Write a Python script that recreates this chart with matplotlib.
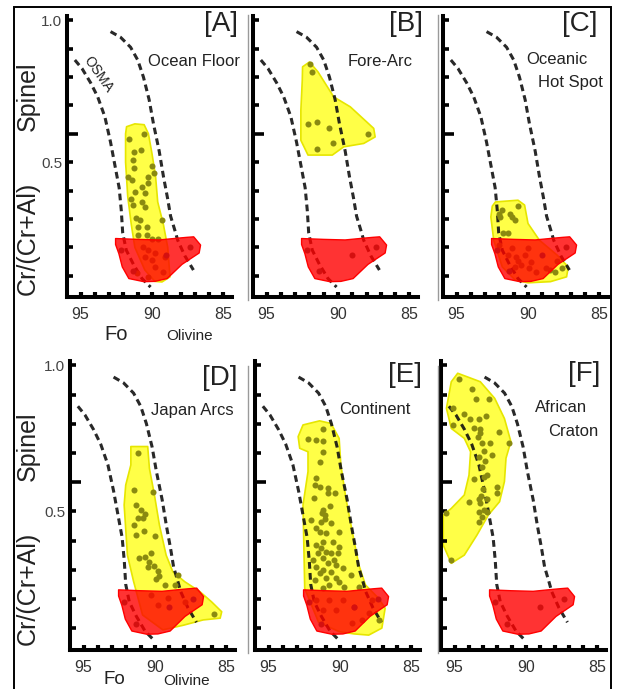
import numpy as np
import matplotlib
matplotlib.use("Agg")
import matplotlib.pyplot as plt
from matplotlib.patches import Polygon, Rectangle
from matplotlib.lines import Line2D

plt.rcParams['font.family'] = ['Liberation Sans', 'DejaVu Sans']

# ---- data (olivine Fo vs spinel Cr/(Cr+Al)) ----

panel_tags = ['[A]', '[B]', '[C]', '[D]', '[E]', '[F]']

# OSMA band limits (same in every panel)
osma_left_fo = [95.4, 94.9, 94.3, 93.8, 93.3, 92.9, 92.6, 92.3, 92.15, 92.05, 91.8, 91.3, 90.7, 90.1]
osma_left_cr = [0.86, 0.83, 0.78, 0.73, 0.66, 0.57, 0.49, 0.41, 0.33, 0.25, 0.19, 0.14, 0.09, 0.06]
osma_right_fo = [92.9, 92.2, 91.5, 91.0, 90.6, 90.2, 89.9, 89.5, 89.2, 88.9, 88.7, 88.4, 88.2, 87.7, 87.1]
osma_right_cr = [0.96, 0.94, 0.905, 0.86, 0.80, 0.72, 0.636, 0.54, 0.45, 0.37, 0.31, 0.26, 0.225, 0.17, 0.12]

# red field (repeated in every panel)
red_outline = [(92.55, 0.231), (91.0, 0.228), (89.5, 0.226), (88.47, 0.231), (87.6, 0.235), (87.08, 0.237),
               (86.6, 0.208), (86.7, 0.18), (87.3, 0.16), (87.9, 0.14), (88.94, 0.09), (89.8, 0.08),
               (90.57, 0.079), (91.62, 0.09), (92.08, 0.131), (92.32, 0.178), (92.55, 0.21)]
red_fo = [92.2, 91.3, 89.0, 87.35]
red_cr = [0.19, 0.115, 0.172, 0.2]

# [A] Ocean Floor
a_outline = [(91.78, 0.625), (91.2, 0.635), (90.55, 0.632), (90.25, 0.60), (90.0, 0.53), (89.75, 0.45),
             (89.6, 0.36), (89.2, 0.28), (88.9, 0.2), (88.74, 0.096), (89.3, 0.078), (89.8, 0.08),
             (90.5, 0.12), (91.2, 0.2), (91.45, 0.28), (91.7, 0.38), (91.85, 0.5), (91.85, 0.6)]
a_fo = [91.61, 90.54, 91.24, 90.77, 91.31, 91.24, 90.02, 89.84, 91.66, 91.42, 90.3, 90.72, 90.26, 91.19,
        90.49, 91.47, 90.72, 91.31, 90.49, 91.14, 90.84, 89.32, 90.96, 90.37, 90.96, 90.37, 89.56, 90.02,
        90.61, 90.26, 89.79, 90.49, 90.02, 89.79, 89.09, 91.07, 89.21, 90.26]
a_cr = [0.58, 0.598, 0.536, 0.542, 0.507, 0.478, 0.486, 0.463, 0.448, 0.437, 0.448, 0.413, 0.425, 0.396,
        0.39, 0.372, 0.36, 0.349, 0.343, 0.302, 0.296, 0.296, 0.272, 0.272, 0.243, 0.243, 0.231, 0.231,
        0.202, 0.19, 0.179, 0.167, 0.155, 0.132, 0.167, 0.108, 0.114, 0.096]

# [B] Fore-Arc
b_outline = [(92.48, 0.836), (92.0, 0.853), (91.4, 0.818), (90.3, 0.73), (89.14, 0.695), (87.5, 0.619),
             (87.4, 0.589), (88.2, 0.566), (89.6, 0.554), (90.4, 0.525), (92.1, 0.525), (92.6, 0.577),
             (92.6, 0.683), (92.5, 0.79)]
b_fo = [91.8, 91.95, 92.08, 91.5, 90.6, 87.87, 91.5, 90.35]
b_cr = [0.818, 0.845, 0.634, 0.642, 0.622, 0.6, 0.548, 0.569]

# [C] Oceanic Hot Spot
c_outline = [(92.28, 0.36), (90.7, 0.366), (90.24, 0.349), (90.0, 0.284), (89.2, 0.225), (87.97, 0.173),
             (87.18, 0.131), (87.3, 0.096), (88.43, 0.079), (90.0, 0.075), (90.9, 0.085), (91.8, 0.131),
             (92.4, 0.225), (92.6, 0.307), (92.5, 0.345)]
c_fo = [92.06, 91.83, 91.94, 91.26, 91.1, 90.69, 90.92, 91.78, 91.42, 92.06, 91.15, 91.37, 90.81, 90.24,
        89.79, 90.47, 89.9, 89.45, 90.92, 88.77, 88.43, 88.09, 87.63, 87.97, 90.69, 90.02]
c_cr = [0.319, 0.331, 0.308, 0.319, 0.308, 0.345, 0.298, 0.249, 0.249, 0.208, 0.196, 0.173, 0.167, 0.173,
        0.149, 0.137, 0.126, 0.114, 0.131, 0.126, 0.12, 0.114, 0.126, 0.153, 0.153, 0.196]

# [D] Japan Arcs
d_outline = [(91.69, 0.722), (90.51, 0.722), (90.39, 0.647), (90.04, 0.556), (89.69, 0.453), (89.22, 0.35),
             (88.75, 0.293), (87.92, 0.259), (86.86, 0.225), (86.04, 0.19), (85.33, 0.156), (85.44, 0.134),
             (86.63, 0.128), (88.0, 0.11), (89.45, 0.094), (90.87, 0.145), (91.5, 0.26), (91.93, 0.35),
             (92.16, 0.522), (92.05, 0.59), (91.69, 0.659)]
d_fo = [91.22, 91.45, 90.16, 91.34, 90.98, 90.7, 91.22, 90.87, 91.45, 90.8, 91.34, 89.97, 91.1, 90.7,
        90.28, 90.4, 90.04, 89.81, 90.51, 89.69, 89.92, 89.29, 88.63, 88.39, 90.28, 89.1, 87.92, 89.8, 85.9]
d_cr = [0.699, 0.573, 0.567, 0.522, 0.505, 0.49, 0.476, 0.476, 0.453, 0.433, 0.419, 0.416, 0.339, 0.345,
        0.356, 0.325, 0.314, 0.296, 0.308, 0.28, 0.268, 0.248, 0.248, 0.282, 0.213, 0.202, 0.191, 0.179, 0.147]

# [E] Continent
e_outline = [(92.59, 0.796), (91.43, 0.81), (90.63, 0.801), (90.06, 0.75), (89.94, 0.659), (89.59, 0.545),
             (89.14, 0.43), (88.68, 0.316), (88.22, 0.248), (87.3, 0.202), (86.84, 0.168), (87.07, 0.1),
             (87.99, 0.076), (89.0, 0.08), (90.06, 0.088), (91.5, 0.12), (92.47, 0.236), (92.59, 0.522),
             (92.24, 0.636), (92.24, 0.704), (92.82, 0.716), (92.93, 0.756)]
e_fo = [91.2, 92.24, 91.71, 91.2, 91.2, 91.39, 91.66, 91.78, 91.43, 90.86, 90.33, 90.86, 91.85, 90.7,
        91.2, 91.25, 91.02, 92.01, 91.32, 91.02, 90.63, 90.05, 91.66, 91.43, 90.97, 90.52, 91.2, 91.71,
        90.05, 91.32, 90.97, 91.55, 90.63, 90.17, 91.2, 90.4, 91.89, 90.86, 90.28, 91.66, 89.82, 91.2,
        90.63, 91.43, 89.25, 90.97, 90.28, 90.05, 91.78, 90.74, 89.71, 91.2, 88.68, 91.66, 90.74, 89.82,
        91.2, 90.28, 89.02, 87.99, 88.45, 87.3, 89.14, 87.76]
e_cr = [0.781, 0.747, 0.744, 0.742, 0.704, 0.67, 0.613, 0.59, 0.584, 0.579, 0.562, 0.562, 0.545, 0.518,
        0.505, 0.493, 0.487, 0.47, 0.465, 0.473, 0.459, 0.43, 0.442, 0.43, 0.425, 0.396, 0.396, 0.385,
        0.379, 0.373, 0.362, 0.356, 0.356, 0.356, 0.339, 0.333, 0.333, 0.322, 0.316, 0.311, 0.305, 0.299,
        0.293, 0.288, 0.282, 0.27, 0.27, 0.259, 0.265, 0.248, 0.242, 0.236, 0.242, 0.196, 0.196, 0.196,
        0.162, 0.162, 0.173, 0.151, 0.128, 0.128, 0.116, 0.196]

# [F] African Craton
f_outline = [(94.78, 0.973), (93.2, 0.944), (92.19, 0.887), (91.51, 0.818), (91.06, 0.739), (91.4, 0.682),
             (91.51, 0.602), (91.85, 0.533), (92.64, 0.487), (93.43, 0.419), (94.32, 0.35), (95.23, 0.322),
             (95.79, 0.384), (95.79, 0.487), (95.23, 0.51), (94.32, 0.556), (93.99, 0.624), (93.88, 0.704),
             (94.32, 0.75), (95.23, 0.784), (95.57, 0.853), (95.23, 0.944)]
f_fo = [94.66, 93.76, 93.47, 92.57, 95.11, 94.33, 92.79, 93.92, 93.31, 95.11, 93.65, 93.24, 93.2, 93.38,
        91.89, 91.22, 92.52, 93.09, 92.93, 93.31, 92.41, 92.86, 93.09, 92.75, 92.93, 93.65, 92.0, 92.0,
        93.02, 93.15, 93.99, 93.31, 92.75, 93.2, 92.97, 93.31, 92.75, 93.09, 93.31, 95.57, 95.27]
f_cr = [0.955, 0.918, 0.884, 0.884, 0.853, 0.833, 0.826, 0.818, 0.815, 0.796, 0.784, 0.781, 0.767, 0.753,
        0.773, 0.735, 0.735, 0.733, 0.708, 0.687, 0.693, 0.674, 0.653, 0.624, 0.619, 0.61, 0.582, 0.562,
        0.575, 0.553, 0.533, 0.541, 0.541, 0.527, 0.505, 0.499, 0.499, 0.482, 0.465, 0.493, 0.333]

outlines = [a_outline, b_outline, c_outline, d_outline, e_outline, f_outline]
dots_fo = [a_fo, b_fo, c_fo, d_fo, e_fo, f_fo]
dots_cr = [a_cr, b_cr, c_cr, d_cr, e_cr, f_cr]

# ---- layout (pixel based) ----
W, H = 617, 689


def px_box(left, bottom, width, height):
    return [left / W, 1 - bottom / H, width / W, height / H]


def ftext(x, y, s, **kw):
    fig.text(x / W, 1 - y / H, s, **kw)


fig = plt.figure(figsize=(W / 100, H / 100), dpi=100)

# (left px, x-axis px, height px)
slots = [(67, 297, 281), (253, 297, 281), (443, 297, 281),
         (70, 650, 289), (255, 650, 289), (441, 650, 289)]

for i, (left, base, height) in enumerate(slots):
    ax = fig.add_axes(px_box(left, base, 165, height))
    ax.set_xlim(95.95, 84.4)
    ax.set_ylim(0.025, 1.015)
    ax.patch.set_alpha(0)

    ax.add_patch(Polygon(outlines[i], closed=True, fc=(1, 1, 0, 0.72), ec='#E6E600', lw=1.2,
                         joinstyle='round', zorder=1))
    ax.plot(osma_left_fo, osma_left_cr, color='#111111', lw=2.2, ls=(0, (2.2, 1.4)), alpha=0.9, zorder=2)
    ax.plot(osma_right_fo, osma_right_cr, color='#111111', lw=2.2, ls=(0, (2.2, 1.4)), alpha=0.9, zorder=2)
    ax.scatter(dots_fo[i], dots_cr[i], s=19, color='#8A8A10', lw=0, zorder=3)
    ax.add_patch(Polygon(red_outline, closed=True, fc=(1, 0, 0, 0.8), ec='#FF0000', lw=1.0,
                         joinstyle='round', zorder=4))
    ax.scatter(red_fo, red_cr, s=19, color='#D41010', lw=0, zorder=5)

    for side in ['top', 'right']:
        ax.spines[side].set_visible(False)
    for side in ['left', 'bottom']:
        ax.spines[side].set_linewidth(2.9)
        ax.spines[side].set_capstyle('projecting')

    xt = list(range(85, 96))
    ax.set_xticks(xt)
    ax.set_xticklabels([str(t) if t % 5 == 0 else '' for t in xt])
    ax.tick_params(axis='x', direction='in', length=3.5, width=3, pad=7,
                   labelsize=11.5, labelcolor='#333333')

    yt = [0.1, 0.2, 0.3, 0.4, 0.5, 0.7, 0.8, 0.9, 1.0]
    ax.set_yticks(yt)
    ax.set_yticks([0.6], minor=True)
    ax.set_yticklabels(['0.5' if t == 0.5 else '1.0' if t == 1.0 else '' for t in yt])
    ax.tick_params(axis='y', which='major', direction='in', length=4, width=2.6, pad=3.5,
                   labelsize=11, labelcolor='#444444', labelleft=(i % 3 == 0))
    ax.tick_params(axis='y', which='minor', direction='in', length=8, width=2.6)

# panel letters
tag_pos = [(238, 24), (423, 24), (598, 24), (238, 378), (422, 375), (600, 374)]
for tag, (x, y) in zip(panel_tags, tag_pos):
    ftext(x, y, tag, fontsize=20, color='#222222', ha='right', va='center')

# setting names
lab_kw = dict(fontsize=12, color='#222222', ha='center', va='center')
ftext(194, 62, 'Ocean Floor', **lab_kw)
ftext(380, 61, 'Fore-Arc', **lab_kw)
ftext(557, 59, 'Oceanic', **lab_kw)
ftext(570, 83, 'Hot Spot', **lab_kw)
ftext(192, 410, 'Japan Arcs', **lab_kw)
ftext(375, 409, 'Continent', **lab_kw)
ftext(561, 408, 'African', **lab_kw)
ftext(573, 431, 'Craton', **lab_kw)
ftext(98, 74, 'OSMA', fontsize=10, color='#222222', ha='center', va='center', rotation=-55)

# axis names
for y0 in [0, 350]:
    ftext(28, 96 + y0, 'Spinel', fontsize=18, color='#222222', rotation=90, ha='center', va='center')
    ftext(28, 238 + y0, 'Cr/(Cr+Al)', fontsize=18, color='#222222', rotation=90, ha='center', va='center')
ftext(116, 334, 'Fo', fontsize=14.5, color='#222222', ha='center', va='center')
ftext(190, 336, 'Olivine', fontsize=11, color='#222222', ha='center', va='center')
ftext(114, 688, 'Fo', fontsize=13.5, color='#222222', ha='center', va='bottom')
ftext(187, 688, 'Olivine', fontsize=11, color='#222222', ha='center', va='bottom')

# frame and panel separators
fig.add_artist(Rectangle((14 / W, 1 - 720 / H), 597 / W, 713 / H, transform=fig.transFigure,
                         fill=False, ec='black', lw=1.4))
for x in [248, 438]:
    fig.add_artist(Line2D([x / W, x / W], [1 - 15 / H, 1 - 300 / H], transform=fig.transFigure,
                          color='#9a9a9a', lw=1))
    fig.add_artist(Line2D([x / W, x / W], [1 - 366 / H, 1 - 653 / H], transform=fig.transFigure,
                          color='#9a9a9a', lw=1))

fig.savefig('out.png', dpi=100)
